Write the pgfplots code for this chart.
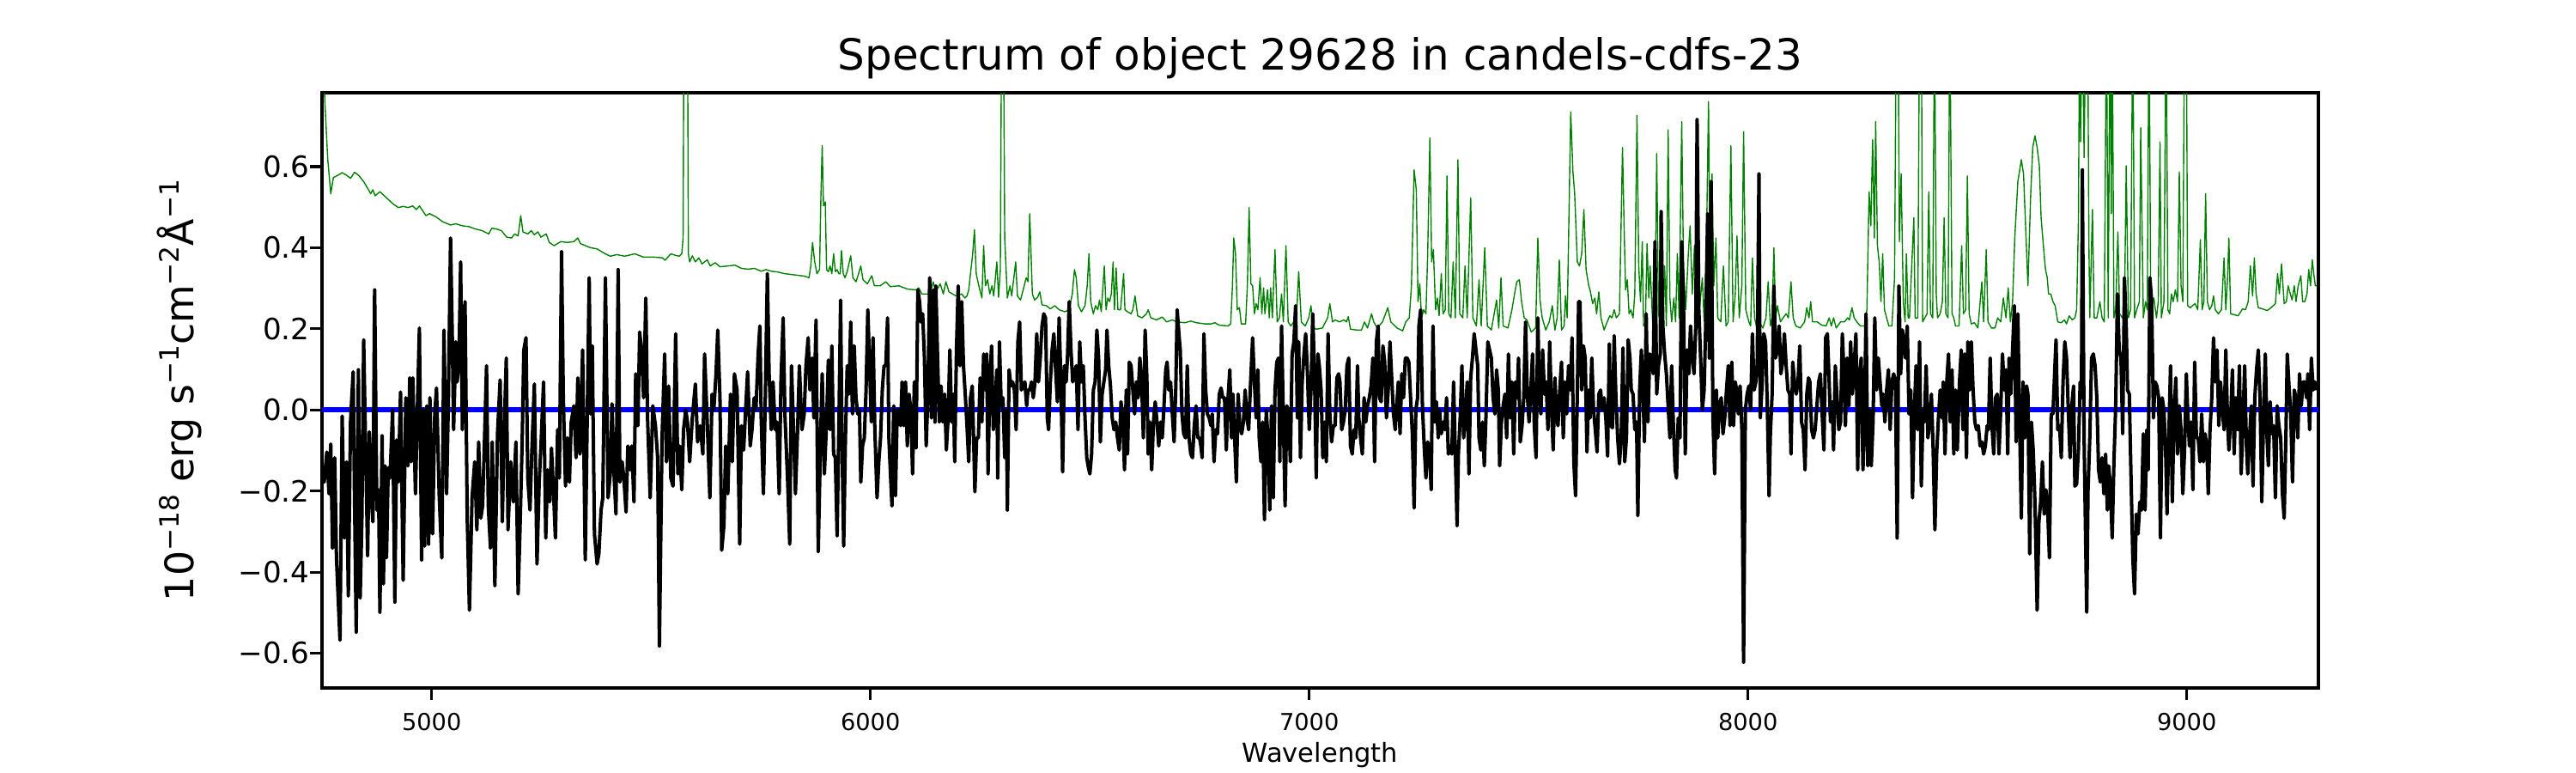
\documentclass[border=0pt]{standalone}
\usepackage{fontspec}
\setmainfont{DejaVu Sans}
\usepackage{pgfplots}
\pgfplotsset{compat=1.18}
\definecolor{mplgreen}{RGB}{0,128,0}
\definecolor{mplblue}{RGB}{0,0,255}
\newcommand\sups[1]{\raisebox{0.36em}{\fontsize{11.2pt}{12pt}\selectfont #1}}
\begin{document}
\begin{tikzpicture}
\begin{axis}[
  at={(0,0)}, anchor=south west,
  scale only axis, width=837pt, height=249.5pt,
  xmin=4750, xmax=9300, ymin=-0.686, ymax=0.782,
  xtick={5000,6000,7000,8000,9000},
  xticklabels={5000,6000,7000,8000,9000},
  ytick={-0.6,-0.4,-0.2,0,0.2,0.4,0.6},
  yticklabels={−0.6,−0.4,−0.2,0.0,0.2,0.4,0.6},
  tick align=outside, xtick pos=left, ytick pos=left,
  major tick length=5pt,
  every tick/.style={black, line width=1.1pt},
  axis line style={line width=1.2pt},
  xticklabel style={font=\fontsize{9.8pt}{10pt}\selectfont, anchor=north, inner sep=0pt, yshift=-5.2pt},
  yticklabel style={font=\fontsize{12.3pt}{13pt}\selectfont, anchor=east, inner sep=0pt},
  every axis title/.style={at={(0.5,1)}, anchor=base, yshift=9.5pt, font=\fontsize{18pt}{20pt}\selectfont},
  every axis x label/.style={at={(0.5,0)}, anchor=base, yshift=-31pt, font=\fontsize{11pt}{12pt}\selectfont},
  every axis y label/.style={at={(-0.0645,0.5)}, rotate=90, anchor=base, yshift=0pt, font=\fontsize{16.5pt}{20pt}\selectfont},
  title={Spectrum of object 29628 in candels-cdfs-23},
  xlabel={Wavelength},
  ylabel={10\sups{−18} erg s\sups{−1}cm\sups{−2}Å\sups{−1}},
]
\addplot[mplblue, line width=2pt] coordinates {(4750,0) (9300,0)};
\addplot[mplgreen, line width=0.5pt, line join=round] coordinates {
(4750,0.95)(4757,0.75)(4763,0.62)(4770,0.533)(4776,0.573)(4785,0.578)(4796,0.585)(4807,0.578)(4815,0.571)(4824,0.586)(4834,0.578)(4845,0.563)(4856,0.543)(4861,0.533)(4866,0.543)(4871,0.528)(4882,0.538)(4897,0.523)(4912,0.508)(4924,0.499)(4935,0.502)(4946,0.499)(4957,0.503)(4965,0.494)(4972,0.503)(4987,0.479)(4995,0.484)(5010,0.476)(5025,0.464)(5043,0.456)(5055,0.459)(5070,0.454)(5085,0.452)(5100,0.446)(5115,0.442)(5130,0.434)(5137,0.448)(5148,0.446)(5159,0.442)(5171,0.426)(5182,0.424)(5189,0.434)(5197,0.429)(5203,0.479)(5208,0.439)(5219,0.434)(5227,0.442)(5234,0.432)(5242,0.439)(5249,0.426)(5261,0.434)(5268,0.413)(5279,0.405)(5294,0.415)(5309,0.413)(5324,0.415)(5333,0.424)(5339,0.410)(5362,0.400)(5377,0.397)(5392,0.387)(5407,0.379)(5422,0.383)(5440,0.379)(5463,0.385)(5482,0.377)(5504,0.377)(5526,0.375)(5532,0.369)(5545,0.385)(5556,0.381)(5564,0.379)(5570,0.385)(5573,0.424)(5575,1.0)(5583,1.0)(5585,0.385)(5588,0.365)(5594,0.380)(5601,0.365)(5609,0.375)(5616,0.360)(5628,0.370)(5635,0.355)(5646,0.363)(5657,0.353)(5676,0.355)(5691,0.357)(5706,0.349)(5721,0.347)(5736,0.349)(5751,0.342)(5762,0.346)(5774,0.342)(5789,0.340)(5804,0.336)(5819,0.334)(5834,0.332)(5849,0.330)(5860,0.326)(5864,0.355)(5868,0.413)(5873,0.365)(5878,0.336)(5884,0.346)(5887,0.523)(5890,0.652)(5893,0.503)(5897,0.513)(5900,0.346)(5904,0.341)(5908,0.355)(5912,0.336)(5916,0.385)(5920,0.341)(5924,0.346)(5928,0.336)(5931,0.336)(5934,0.393)(5938,0.336)(5942,0.326)(5947,0.341)(5955,0.380)(5960,0.326)(5967,0.316)(5973,0.336)(5978,0.355)(5983,0.321)(5993,0.311)(6003,0.331)(6009,0.306)(6022,0.306)(6035,0.316)(6045,0.304)(6065,0.306)(6084,0.298)(6104,0.296)(6110,0.301)(6117,0.286)(6136,0.286)(6143,0.316)(6149,0.291)(6159,0.311)(6166,0.286)(6172,0.316)(6179,0.291)(6195,0.281)(6208,0.286)(6215,0.276)(6220,0.281)(6224,0.296)(6229,0.346)(6233,0.385)(6237,0.444)(6241,0.336)(6247,0.306)(6254,0.276)(6258,0.405)(6262,0.306)(6267,0.321)(6272,0.286)(6277,0.306)(6281,0.281)(6288,0.365)(6292,0.278)(6296,0.346)(6299,1.0)(6303,1.0)(6306,0.424)(6312,0.276)(6318,0.306)(6322,0.281)(6331,0.365)(6335,0.281)(6342,0.271)(6348,0.296)(6355,0.326)(6359,0.316)(6363,0.484)(6369,0.286)(6374,0.271)(6381,0.278)(6386,0.291)(6391,0.259)(6401,0.257)(6410,0.249)(6420,0.257)(6430,0.247)(6443,0.242)(6453,0.247)(6460,0.286)(6465,0.346)(6469,0.326)(6474,0.257)(6481,0.242)(6489,0.257)(6494,0.306)(6498,0.385)(6502,0.267)(6508,0.237)(6513,0.257)(6518,0.247)(6522,0.271)(6526,0.242)(6533,0.355)(6537,0.247)(6541,0.276)(6545,0.267)(6549,0.286)(6553,0.365)(6556,0.247)(6560,0.350)(6564,0.247)(6570,0.247)(6577,0.336)(6580,0.247)(6586,0.242)(6594,0.237)(6598,0.247)(6603,0.281)(6609,0.232)(6619,0.227)(6629,0.237)(6633,0.247)(6639,0.227)(6652,0.222)(6665,0.229)(6675,0.217)(6688,0.222)(6697,0.217)(6717,0.215)(6730,0.219)(6743,0.215)(6763,0.212)(6776,0.212)(6785,0.215)(6795,0.209)(6815,0.207)(6821,0.212)(6825,0.306)(6828,0.424)(6832,0.385)(6836,0.247)(6841,0.252)(6845,0.212)(6851,0.212)(6855,0.212)(6859,0.306)(6863,0.499)(6867,0.311)(6871,0.306)(6875,0.237)(6879,0.262)(6883,0.247)(6888,0.326)(6892,0.237)(6896,0.301)(6899,0.237)(6905,0.296)(6909,0.227)(6912,0.301)(6916,0.227)(6922,0.395)(6927,0.217)(6932,0.227)(6937,0.286)(6941,0.217)(6947,0.405)(6952,0.217)(6958,0.207)(6965,0.217)(6970,0.207)(6976,0.341)(6982,0.217)(6991,0.207)(6999,0.227)(7004,0.257)(7009,0.202)(7017,0.199)(7030,0.202)(7042,0.227)(7047,0.262)(7053,0.217)(7059,0.222)(7069,0.217)(7079,0.222)(7085,0.217)(7089,0.230)(7094,0.199)(7108,0.197)(7119,0.197)(7126,0.217)(7133,0.202)(7142,0.237)(7147,0.217)(7155,0.202)(7167,0.217)(7179,0.252)(7186,0.217)(7200,0.202)(7213,0.195)(7220,0.217)(7228,0.227)(7233,0.306)(7239,0.592)(7244,0.543)(7248,0.267)(7252,0.311)(7256,0.227)(7261,0.247)(7266,0.237)(7270,0.385)(7275,0.671)(7279,0.365)(7283,0.395)(7288,0.247)(7292,0.276)(7296,0.232)(7301,0.336)(7305,0.237)(7310,0.247)(7314,0.577)(7318,0.237)(7323,0.227)(7328,0.365)(7333,0.227)(7339,0.617)(7343,0.237)(7350,0.227)(7355,0.355)(7360,0.227)(7368,0.523)(7373,0.227)(7381,0.207)(7387,0.321)(7392,0.207)(7400,0.400)(7406,0.207)(7415,0.197)(7427,0.271)(7432,0.202)(7437,0.326)(7442,0.207)(7453,0.202)(7462,0.247)(7468,0.286)(7473,0.316)(7479,0.321)(7484,0.267)(7490,0.227)(7496,0.222)(7506,0.192)(7516,0.202)(7521,0.424)(7526,0.271)(7531,0.227)(7539,0.197)(7547,0.217)(7554,0.257)(7560,0.197)(7565,0.227)(7570,0.370)(7575,0.197)(7581,0.207)(7584,0.281)(7588,0.227)(7596,0.735)(7601,0.587)(7605,0.533)(7611,0.365)(7616,0.355)(7621,0.385)(7626,0.494)(7631,0.346)(7637,0.306)(7640,0.296)(7646,0.262)(7651,0.276)(7655,0.237)(7660,0.291)(7665,0.227)(7672,0.197)(7679,0.217)(7685,0.232)(7690,0.227)(7695,0.247)(7700,0.227)(7707,0.237)(7714,0.647)(7718,0.434)(7721,0.296)(7725,0.321)(7729,0.237)(7733,0.247)(7738,0.227)(7742,0.286)(7747,0.726)(7751,0.355)(7755,0.267)(7759,0.415)(7762,0.207)(7766,0.207)(7770,0.410)(7774,0.276)(7777,0.355)(7783,0.207)(7788,0.237)(7792,0.632)(7796,0.237)(7801,0.207)(7806,0.207)(7810,0.355)(7814,0.207)(7818,0.691)(7822,0.276)(7826,0.217)(7831,0.276)(7835,0.217)(7839,0.385)(7843,0.227)(7849,0.711)(7853,0.355)(7858,0.247)(7864,0.385)(7868,0.454)(7873,0.286)(7878,0.405)(7882,0.217)(7887,0.227)(7891,0.267)(7896,0.326)(7900,0.217)(7905,0.385)(7910,0.760)(7914,0.267)(7918,0.582)(7922,0.306)(7927,0.424)(7931,0.227)(7938,0.217)(7944,0.355)(7950,0.207)(7955,0.217)(7961,0.652)(7966,0.217)(7971,0.286)(7975,0.429)(7980,0.227)(7986,0.306)(7990,0.686)(7995,0.247)(8002,0.217)(8006,0.207)(8010,0.375)(8015,0.227)(8019,0.207)(8025,0.217)(8034,0.202)(8041,0.227)(8046,0.316)(8051,0.207)(8055,0.227)(8059,0.400)(8063,0.227)(8067,0.257)(8074,0.217)(8080,0.227)(8087,0.237)(8092,0.227)(8098,0.316)(8103,0.227)(8109,0.207)(8119,0.202)(8129,0.217)(8134,0.252)(8139,0.227)(8143,0.267)(8147,0.217)(8158,0.217)(8168,0.209)(8178,0.207)(8185,0.227)(8190,0.207)(8195,0.227)(8201,0.202)(8211,0.217)(8220,0.217)(8227,0.227)(8231,0.222)(8237,0.252)(8242,0.227)(8248,0.217)(8256,0.207)(8266,0.207)(8271,0.247)(8276,0.538)(8280,0.454)(8284,0.666)(8288,0.424)(8291,0.711)(8295,0.405)(8299,0.365)(8303,0.267)(8307,0.385)(8311,0.247)(8316,0.227)(8321,0.207)(8328,0.207)(8334,0.326)(8338,1.0)(8342,1.0)(8345,0.415)(8349,0.582)(8354,0.267)(8358,0.217)(8361,0.385)(8365,0.227)(8368,0.227)(8378,0.474)(8381,0.227)(8387,0.227)(8391,1.0)(8395,1.0)(8398,0.217)(8403,0.227)(8408,0.237)(8412,0.538)(8416,0.237)(8421,0.227)(8425,1.0)(8429,0.286)(8432,0.227)(8438,0.237)(8443,0.267)(8447,0.474)(8451,0.237)(8456,0.227)(8460,1.0)(8465,0.237)(8469,0.227)(8473,0.207)(8481,0.207)(8487,0.405)(8491,0.237)(8496,0.247)(8500,0.577)(8504,0.237)(8509,0.212)(8516,0.215)(8524,0.202)(8533,0.316)(8537,0.217)(8543,0.395)(8547,0.217)(8555,0.202)(8563,0.202)(8569,0.227)(8576,0.217)(8582,0.276)(8588,0.227)(8593,0.301)(8598,0.217)(8603,0.267)(8608,0.424)(8615,0.563)(8623,0.617)(8628,0.582)(8633,0.444)(8638,0.306)(8644,0.523)(8649,0.647)(8654,0.676)(8659,0.647)(8664,0.602)(8668,0.474)(8674,0.395)(8678,0.346)(8682,0.326)(8685,0.286)(8690,0.286)(8695,0.267)(8700,0.257)(8706,0.217)(8714,0.215)(8721,0.222)(8726,0.212)(8732,0.232)(8739,0.222)(8745,0.227)(8749,0.247)(8753,0.464)(8756,1.0)(8758,0.661)(8762,1.0)(8766,0.622)(8770,1.0)(8774,1.0)(8777,0.405)(8779,0.227)(8785,0.494)(8789,0.227)(8795,0.227)(8802,0.267)(8807,0.227)(8812,0.217)(8817,1.0)(8821,0.227)(8825,1.0)(8828,0.484)(8830,1.0)(8834,0.227)(8838,0.247)(8843,0.439)(8847,0.237)(8853,0.227)(8858,0.247)(8862,0.602)(8867,0.227)(8872,0.247)(8877,1.0)(8881,0.227)(8886,0.247)(8892,0.267)(8895,0.696)(8901,0.227)(8906,0.267)(8910,0.247)(8914,1.0)(8918,0.227)(8922,0.267)(8925,0.276)(8931,0.227)(8935,0.267)(8939,0.661)(8942,0.227)(8948,0.267)(8953,1.0)(8957,0.247)(8961,0.237)(8965,0.286)(8969,0.267)(8974,0.296)(8979,0.267)(8983,0.587)(8987,0.306)(8991,0.267)(8995,1.0)(8999,1.0)(9002,0.257)(9008,0.252)(9013,0.257)(9019,0.262)(9025,0.247)(9031,0.420)(9035,0.247)(9039,0.267)(9043,0.533)(9047,0.267)(9052,0.247)(9057,0.257)(9061,0.281)(9065,0.247)(9072,0.237)(9079,0.247)(9085,0.375)(9089,0.247)(9093,0.326)(9096,0.424)(9100,0.237)(9107,0.235)(9117,0.232)(9127,0.249)(9134,0.247)(9140,0.267)(9145,0.355)(9150,0.281)(9154,0.375)(9158,0.286)(9163,0.252)(9173,0.249)(9183,0.245)(9192,0.252)(9202,0.262)(9207,0.336)(9211,0.286)(9216,0.360)(9222,0.262)(9227,0.267)(9231,0.306)(9236,0.286)(9240,0.271)(9245,0.306)(9249,0.267)(9254,0.306)(9260,0.331)(9264,0.267)(9269,0.267)(9274,0.286)(9278,0.346)(9282,0.306)(9286,0.370)(9290,0.331)(9293,0.306)(9297,0.306)
};
\addplot[black, line width=1.45pt, line join=round] coordinates {
(4750,-0.178)(4755,-0.178)(4761,-0.104)(4766,-0.207)(4770,-0.084)(4774,-0.341)(4779,-0.118)(4783,-0.365)(4791,-0.568)(4796,-0.015)(4801,-0.316)(4806,-0.128)(4810,-0.459)(4815,-0.030)(4821,0.094)(4824,-0.207)(4828,-0.548)(4833,0.099)(4837,-0.464)(4841,-0.267)(4845,0.173)(4849,-0.069)(4854,-0.360)(4858,-0.054)(4861,-0.197)(4866,-0.276)(4870,0.296)(4875,-0.247)(4879,-0.197)(4882,-0.499)(4887,-0.064)(4890,-0.429)(4894,-0.138)(4897,-0.365)(4901,-0.143)(4905,-0.168)(4911,0)(4916,-0.474)(4920,-0.074)(4924,-0.178)(4929,0.044)(4935,-0.420)(4941,0.030)(4946,-0.138)(4950,0.079)(4953,-0.128)(4957,0.079)(4963,-0.207)(4968,0.030)(4972,0.202)(4977,-0.370)(4981,0)(4984,-0.336)(4989,0.010)(4993,-0.331)(4996,0.030)(5002,-0.306)(5007,-0.010)(5011,0.054)(5017,-0.207)(5023,-0.365)(5028,0.197)(5034,-0.207)(5038,0.020)(5043,0.424)(5047,0.178)(5050,-0.049)(5055,0.168)(5058,0.069)(5062,0.109)(5066,0.365)(5070,-0.049)(5076,0.267)(5081,-0.267)(5086,-0.494)(5092,-0.217)(5098,-0.128)(5103,-0.296)(5107,-0.079)(5112,-0.267)(5116,-0.237)(5120,-0.089)(5125,0.109)(5129,-0.237)(5134,-0.341)(5138,-0.079)(5144,-0.434)(5150,-0.059)(5156,0.074)(5161,-0.276)(5165,-0.059)(5170,0.128)(5174,-0.296)(5180,-0.128)(5186,-0.227)(5192,-0.079)(5197,-0.454)(5201,-0.306)(5206,-0.089)(5210,0.148)(5215,0.178)(5219,-0.168)(5224,-0.247)(5228,-0.109)(5234,0.064)(5240,-0.380)(5245,-0.178)(5249,-0.089)(5255,0.069)(5260,-0.316)(5264,-0.148)(5269,-0.227)(5273,-0.094)(5278,-0.212)(5282,-0.316)(5287,-0.049)(5291,-0.168)(5296,0.390)(5300,0.030)(5305,-0.188)(5309,-0.069)(5314,-0.178)(5318,-0.030)(5324,0.010)(5329,-0.118)(5333,0.079)(5338,-0.109)(5344,0.148)(5350,-0.370)(5354,-0.059)(5359,0.326)(5362,-0.010)(5366,0.158)(5371,-0.306)(5377,-0.380)(5381,-0.355)(5386,-0.247)(5390,-0.217)(5396,0.326)(5402,-0.217)(5407,-0.158)(5411,0.015)(5416,-0.168)(5420,-0.257)(5425,0.346)(5429,-0.178)(5434,-0.128)(5438,-0.168)(5443,-0.252)(5447,-0.089)(5452,-0.148)(5456,-0.089)(5461,-0.227)(5465,0.089)(5470,-0.039)(5474,0.192)(5479,0.138)(5483,0.030)(5488,0.276)(5492,-0.020)(5498,-0.217)(5504,0.010)(5510,-0.039)(5515,-0.118)(5519,-0.582)(5525,-0.069)(5531,0.138)(5535,-0.128)(5540,0.059)(5545,-0.168)(5550,-0.188)(5556,0.188)(5561,-0.158)(5565,-0.089)(5570,-0.197)(5574,-0.049)(5579,0)(5583,-0.030)(5588,-0.128)(5594,-0.020)(5601,0.064)(5606,-0.079)(5612,-0.039)(5618,-0.109)(5622,0.138)(5628,-0.030)(5634,-0.217)(5639,0.039)(5643,0)(5648,0.089)(5652,0.197)(5657,0.030)(5661,-0.346)(5666,-0.286)(5670,-0.089)(5675,-0.207)(5681,0.039)(5685,-0.128)(5690,0.089)(5696,0.049)(5702,-0.331)(5706,-0.039)(5711,-0.099)(5715,-0.010)(5720,0.094)(5726,-0.089)(5730,-0.049)(5735,0.030)(5739,0)(5744,0.138)(5748,0.207)(5751,-0.020)(5756,-0.207)(5760,0.010)(5765,0.336)(5769,0.089)(5774,-0.049)(5778,0.069)(5783,-0.049)(5787,-0.030)(5792,-0.207)(5796,0.069)(5801,0.227)(5805,-0.010)(5811,-0.168)(5816,-0.331)(5820,0.109)(5825,-0.059)(5829,-0.207)(5834,-0.049)(5838,0.109)(5844,-0.049)(5849,-0.010)(5853,0.109)(5858,0.178)(5862,0.049)(5867,0.128)(5871,-0.020)(5876,0.222)(5881,-0.350)(5886,-0.089)(5890,0.089)
(5895,-0.158)(5900,-0.030)(5904,0.123)(5908,-0.049)(5912,0.158)(5916,-0.109)(5920,-0.118)(5924,-0.311)(5928,-0.039)(5932,0.271)(5935,-0.069)(5939,-0.336)(5943,-0.069)(5947,0.109)(5951,0.039)(5955,0.217)(5959,-0.010)(5963,0.158)(5967,0.030)(5971,-0.010)(5975,0)(5978,-0.178)(5982,-0.089)(5986,-0.069)(5990,0.049)(5994,0.247)(5998,0.109)(6002,-0.030)(6006,0.178)(6010,-0.049)(6015,-0.217)(6019,-0.128)(6023,-0.069)(6027,0.049)(6031,0.109)(6035,0.109)(6039,0.227)(6042,-0.069)(6046,-0.168)(6049,-0.237)(6053,0.010)(6057,-0.212)(6061,0)(6065,0)(6069,-0.039)(6072,0.069)(6076,-0.039)(6080,0.069)(6084,-0.089)(6088,0.039)(6092,0)(6096,-0.158)(6100,0.069)(6104,-0.094)(6108,0.296)(6112,0.267)(6115,0.217)(6119,0.237)(6123,0.128)(6127,-0.089)(6131,0.039)(6135,0.326)(6139,-0.020)(6143,0.296)(6147,-0.030)(6149,0.306)(6153,0.128)(6157,-0.030)(6161,0.059)(6165,-0.030)(6169,0.039)(6173,-0.099)(6177,-0.020)(6181,0.148)(6185,-0.030)(6189,0.039)(6192,-0.128)(6196,0.148)(6200,0.306)(6204,0.109)(6208,0.267)(6212,0.109)(6216,0.039)(6220,-0.039)(6224,-0.128)(6228,0.030)(6232,0.059)(6236,-0.109)(6238,-0.202)(6242,-0.069)(6246,-0.069)(6250,0.079)(6254,-0.030)(6258,0.138)(6262,0.049)(6265,0.138)(6268,-0.158)(6272,0.069)(6276,0.158)(6280,-0.049)(6284,0.010)(6288,0.099)(6290,-0.168)(6294,0.168)(6298,0.010)(6302,0.030)(6306,-0.118)(6310,0)(6312,-0.247)(6316,0.099)(6320,0.059)(6324,0.069)(6328,0.049)(6332,-0.049)(6336,0.168)(6340,0.217)(6344,0.049)(6348,0.059)(6352,0.069)(6356,0.010)(6359,0.049)(6363,0.049)(6367,0.069)(6371,0.030)(6375,0.069)(6379,0.188)(6383,0.069)(6387,0.128)(6391,0.207)(6395,0.237)(6399,0.227)(6403,-0.020)(6406,-0.049)(6410,0.069)(6414,0.148)(6418,0.188)(6422,0.099)(6426,0.020)(6430,0.227)(6434,0.069)(6438,-0.153)(6442,0.109)(6446,0.069)(6449,0.128)(6453,0.267)(6457,0.148)(6461,0.069)(6465,0.089)(6469,0.109)(6473,-0.049)(6477,0.168)(6481,0.069)(6485,0.109)(6489,-0.020)(6493,-0.118)(6496,-0.138)(6500,-0.158)(6504,-0.109)(6508,0.049)(6512,0.069)(6516,0.197)(6520,0.128)(6524,-0.079)(6528,0.039)(6532,0.069)(6536,0.099)(6539,0.197)(6543,0.109)(6547,0.059)(6551,-0.020)(6555,-0.049)(6559,-0.030)(6563,-0.069)(6567,-0.099)(6571,0.020)(6575,-0.020)(6579,-0.148)(6583,0.049)(6586,-0.109)(6590,0.118)(6594,0.109)(6598,0.049)(6602,-0.010)(6606,0.069)(6610,0.030)(6614,0.128)(6618,0.069)(6622,-0.069)(6626,0.197)(6630,0.079)(6633,-0.109)(6637,-0.030)(6641,-0.148)(6645,-0.030)(6649,0.020)(6653,-0.030)(6657,-0.089)(6661,-0.030)(6665,-0.069)(6669,0.010)(6673,0.099)(6676,0.118)(6680,0.049)(6684,0.069)(6688,-0.010)(6692,-0.079)(6696,0.059)(6699,0.247)(6703,0.188)(6706,0.148)(6710,-0.010)(6714,-0.059)(6718,-0.069)(6722,0.109)(6726,-0.069)(6730,-0.109)(6734,-0.118)(6738,-0.039)(6742,0.010)(6746,-0.069)(6750,-0.069)(6753,-0.089)
(6756,-0.118)(6760,0.188)(6764,0.049)(6768,-0.010)(6772,-0.020)(6776,-0.039)(6779,-0.010)(6783,-0.128)(6787,-0.049)(6791,-0.059)(6795,0.039)(6799,0.054)(6803,0.030)(6807,0.030)(6811,-0.099)(6815,0.030)(6819,0.099)(6823,-0.069)(6826,0.039)(6830,-0.069)(6834,-0.178)(6838,0.039)(6842,-0.039)(6846,-0.059)(6850,-0.030)(6854,0.049)(6858,-0.020)(6862,-0.049)(6866,0.059)(6871,0.178)(6875,0.069)(6879,-0.020)(6883,0.099)(6886,-0.069)(6890,-0.128)(6894,-0.030)(6898,-0.271)(6902,0)(6906,-0.069)(6910,-0.247)(6914,0.010)(6918,-0.217)(6922,0.049)(6926,0.118)(6930,0.128)(6933,-0.128)(6937,0.207)(6941,-0.020)(6945,-0.237)(6949,0.010)(6953,-0.010)(6957,-0.128)(6961,0.138)(6965,0.168)(6969,0.257)(6973,-0.020)(6976,0.168)(6980,-0.118)(6984,0.069)(6988,0.138)(6992,0.188)(6996,0.089)(7000,-0.049)(7004,0.049)(7008,0.237)(7012,0.089)(7016,-0.168)(7020,0.138)(7023,0.109)(7027,0.049)(7031,-0.118)(7035,-0.030)(7039,-0.128)(7043,0.188)(7047,-0.010)(7051,-0.079)(7055,-0.039)(7059,-0.039)(7063,0.079)(7067,0.089)(7070,0.069)(7074,-0.049)(7078,-0.030)(7082,0)(7086,0.109)(7090,0.128)(7094,-0.089)(7098,-0.109)(7102,-0.049)(7106,-0.069)(7110,0.109)(7113,-0.020)(7117,-0.069)(7121,-0.109)(7125,0.030)(7129,-0.030)(7133,0.010)(7137,0.030)(7141,0.059)(7145,0.128)(7149,-0.128)(7153,0.168)(7157,0.207)(7160,0.030)(7164,0.020)(7168,0.158)(7172,0.118)(7176,-0.020)(7180,0.049)(7184,0.168)(7188,0.079)(7192,-0.010)(7196,-0.049)(7200,0.020)(7203,0.069)(7207,-0.059)(7211,0.089)(7215,0.030)(7219,0.128)(7223,0.128)(7227,0.118)(7231,0.030)(7235,-0.059)(7239,-0.242)(7243,0)(7247,0.030)(7250,0.207)(7254,0.247)(7258,0.010)(7262,-0.089)(7266,-0.168)(7270,-0.079)(7274,-0.099)(7278,-0.197)(7282,0.207)(7286,-0.030)(7290,0.020)(7294,-0.069)(7297,0)(7301,-0.059)(7305,-0.030)(7309,-0.049)(7313,0.030)(7317,-0.109)(7321,-0.089)(7325,-0.109)(7329,0.069)(7333,-0.109)(7337,-0.286)(7340,-0.109)(7344,-0.020)(7348,0.109)(7352,-0.069)(7356,-0.020)(7360,0.069)(7364,-0.158)(7368,0.079)(7372,0.128)(7376,0.188)(7380,0.148)(7384,0.109)(7387,-0.069)(7391,-0.099)(7395,-0.030)(7399,-0.138)(7403,-0.010)(7407,0.168)(7411,0.148)(7415,0.128)(7419,0.030)(7423,-0.010)(7427,0.099)(7431,0.049)(7434,-0.138)(7438,-0.030)(7442,0.010)(7446,0.039)(7450,-0.069)(7454,0.138)(7458,-0.020)(7462,0.069)(7466,-0.109)(7470,0.069)(7474,0.030)(7477,0.128)(7481,-0.079)(7485,-0.039)(7489,0.030)(7493,0.217)(7497,0.039)(7501,-0.030)(7505,0.049)(7509,0.138)(7513,-0.039)(7517,-0.118)(7521,0.227)(7524,0.069)(7528,-0.010)(7532,0.148)(7536,0.039)(7540,0.069)(7544,-0.049)(7548,0.168)(7552,0.010)(7556,-0.099)(7560,0.079)(7564,-0.020)(7567,-0.039)(7571,0.049)(7575,0.118)(7579,-0.069)(7583,0.069)(7587,-0.010)(7591,0.109)(7595,0.049)(7599,0.178)(7603,-0.128)(7607,-0.212)(7611,0.039)(7614,0.267)
(7617,0.267)(7621,0.049)(7625,0.158)(7629,0.128)(7633,-0.104)(7637,0.049)(7640,-0.020)(7644,0.128)(7648,0)(7652,-0.049)(7656,-0.104)(7660,0.039)(7664,0.049)(7668,0)(7672,0.030)(7676,-0.020)(7680,-0.114)(7684,0.163)(7687,-0.039)(7691,-0.044)(7695,0.183)(7699,0.030)(7703,-0.069)(7707,-0.133)(7711,-0.069)(7715,0.153)(7719,-0.128)(7723,-0.069)(7727,0.173)(7731,0.128)(7734,0.049)(7738,0.039)(7742,-0.049)(7746,-0.030)(7749,-0.261)(7753,0.049)(7757,0.148)(7761,0.030)(7764,-0.079)(7768,0.237)(7772,-0.030)(7776,0.138)(7780,0.128)(7784,0.089)(7788,0.415)(7792,0.039)(7796,0.109)(7800,0.138)(7802,0.489)(7806,0.207)(7810,0.138)(7814,0.089)(7818,0.010)(7822,-0.069)(7826,0.109)(7830,-0.039)(7834,-0.148)(7837,-0.168)(7841,-0.020)(7845,-0.069)(7849,0.415)(7853,0.267)(7857,-0.109)(7861,0.148)(7865,0.089)(7869,0.207)(7873,0.128)(7877,0.089)(7881,0.207)(7884,0.716)(7888,0.247)(7892,0.128)(7896,0)(7900,0.049)(7904,0.227)(7908,0.484)(7912,0.128)(7916,0.563)(7920,-0.020)(7924,-0.158)(7928,0.049)(7931,-0.069)(7935,0.010)(7939,0.030)(7943,-0.059)(7947,-0.020)(7951,0.049)(7955,0.109)(7959,-0.039)(7963,0.118)(7967,-0.039)(7971,0.069)(7974,0.049)(7978,-0.010)(7982,0.059)(7986,-0.049)(7990,-0.622)(7994,0)(7998,0.039)(8002,0.059)(8006,0)(8010,0.188)(8014,0.049)(8018,0.069)(8021,0.109)(8025,0.582)(8028,-0.020)(8032,0.059)(8036,0.188)(8040,0.168)(8044,0.010)(8048,-0.212)(8051,-0.059)(8055,0.039)(8059,0.306)(8063,0.128)(8067,0.148)(8071,0.207)(8075,0.089)(8079,0.118)(8083,0.188)(8087,0.109)(8091,0.049)(8095,0.039)(8098,-0.109)(8102,0.118)(8106,0.069)(8110,0.039)(8114,0.069)(8118,0.158)(8122,-0.030)(8126,-0.049)(8130,-0.148)(8134,0.039)(8138,0.079)(8141,0.069)(8145,-0.049)(8149,-0.069)(8153,-0.049)(8157,0.010)(8161,0.069)(8165,0.089)(8169,-0.010)(8173,-0.099)(8177,0.178)(8181,0.188)(8185,0.069)(8188,-0.030)(8192,0.020)(8195,-0.099)(8199,0.109)(8203,0.030)(8207,-0.049)(8211,-0.030)(8215,0.188)(8218,0.109)(8222,-0.039)(8226,0.128)(8230,0.010)(8234,0.168)(8238,0.039)(8242,0.109)(8246,0.188)(8250,-0.148)(8254,0.089)(8258,0.128)(8262,-0.148)(8265,-0.049)(8269,0.237)(8273,-0.138)(8277,0)(8281,-0.138)(8285,-0.030)(8289,0.227)(8293,0.049)(8297,0.128)(8301,0.069)(8305,0.010)(8308,0.039)(8312,-0.030)(8316,0.049)(8320,0.099)(8324,-0.049)(8328,0.069)(8332,0.089)(8336,0.069)(8340,-0.316)(8344,0.306)(8348,0.089)(8352,0.197)(8355,0.168)(8359,0.128)(8363,0.207)(8367,-0.010)(8371,0.049)(8375,-0.217)(8379,-0.010)(8383,0.109)(8387,-0.049)(8391,0.168)(8395,-0.188)(8399,0)(8402,-0.030)(8406,0.109)(8410,-0.069)(8414,-0.030)(8418,0.039)(8422,-0.099)(8426,-0.296)(8430,-0.109)(8434,-0.020)(8438,0.049)(8442,-0.020)(8445,0.069)(8449,-0.109)(8453,0.069)(8457,0.138)(8461,-0.030)(8465,0.099)(8469,-0.109)(8473,0.049)(8477,-0.099)
(8482,0.069)(8486,0.148)(8490,-0.049)(8494,0.138)(8498,-0.118)(8501,0.168)(8505,0.049)(8509,0.168)(8513,0.049)(8517,-0.030)(8521,-0.049)(8525,-0.039)(8529,-0.089)(8533,-0.079)(8537,-0.109)(8541,-0.089)(8545,-0.039)(8548,-0.049)(8552,0.128)(8556,-0.039)(8560,-0.109)(8564,0.030)(8568,0.039)(8572,-0.109)(8576,0)(8580,0.138)(8584,0.049)(8588,0.099)(8592,-0.109)(8595,0.128)(8599,0.039)(8603,0.148)(8607,0.257)(8611,-0.079)(8615,0.237)(8619,-0.030)(8623,-0.267)(8627,0.069)(8631,-0.069)(8635,0.059)(8638,0.039)(8642,-0.355)(8646,-0.030)(8650,-0.099)(8654,-0.227)(8659,-0.494)(8663,-0.276)(8667,-0.227)(8671,-0.128)(8675,-0.257)(8679,-0.197)(8683,-0.247)(8687,-0.365)(8691,-0.010)(8695,-0.010)(8698,0.069)(8702,0.173)(8706,-0.049)(8710,-0.039)(8714,-0.118)(8718,0.069)(8722,0.168)(8726,0.128)(8730,0)(8734,-0.118)(8738,0.010)(8742,0.059)(8745,-0.188)(8749,-0.183)(8753,-0.099)(8757,0.069)(8760,0.030)(8762,0.592)(8766,-0.069)(8772,-0.499)(8775,-0.197)(8779,-0.069)(8783,0.128)(8787,0.138)(8791,0.109)(8795,0.030)(8799,-0.148)(8803,-0.178)(8807,-0.118)(8811,-0.207)(8815,-0.109)(8819,-0.247)(8822,-0.138)(8826,-0.188)(8830,-0.316)(8834,-0.128)(8838,0.010)(8842,0.286)(8846,0.148)(8850,0.128)(8854,-0.059)(8858,0.326)(8862,0.207)(8865,0.049)(8869,0.039)(8873,-0.168)(8877,-0.365)(8881,-0.454)(8885,-0.257)(8889,-0.306)(8893,-0.227)(8897,-0.247)(8901,-0.059)(8905,-0.247)(8909,-0.049)(8912,-0.148)(8916,0.326)(8920,0.267)(8924,-0.020)(8928,0.069)(8932,0.059)(8936,0.030)(8940,-0.316)(8944,0.030)(8948,0)(8952,-0.109)(8955,-0.257)(8959,-0.069)(8963,0.109)(8967,-0.227)(8971,-0.010)(8975,0.079)(8979,-0.109)(8983,0.010)(8987,-0.049)(8991,-0.207)(8995,-0.099)(8999,0.089)(9002,0)(9006,-0.089)(9010,-0.030)(9014,-0.197)(9018,0.118)(9022,-0.069)(9026,-0.069)(9030,-0.128)(9034,-0.010)(9038,-0.128)(9042,-0.059)(9046,-0.099)(9049,-0.207)(9053,-0.049)(9057,0.030)(9061,0.178)(9065,0.069)(9069,0.148)(9073,-0.039)(9077,0.069)(9081,0)(9085,-0.049)(9089,0.148)(9093,-0.030)(9096,-0.099)(9100,-0.020)(9104,0.099)(9108,-0.109)(9112,0.030)(9116,-0.049)(9120,0.109)(9124,-0.158)(9128,-0.030)(9132,0.109)(9136,-0.089)(9139,-0.158)(9143,-0.069)(9147,0.010)(9151,-0.188)(9155,0.030)(9159,0.099)(9163,0.148)(9167,0.030)(9171,-0.227)(9175,-0.020)(9179,0.138)(9183,-0.069)(9186,-0.138)(9190,0.020)(9194,-0.059)(9198,-0.039)(9202,-0.217)(9206,0.010)(9210,-0.039)(9214,-0.069)(9218,-0.207)(9222,-0.267)(9226,-0.059)(9229,0.138)(9233,0.059)(9237,-0.010)(9241,-0.178)(9245,0.049)(9249,0.030)(9253,-0.069)(9257,0.089)(9261,0.010)(9265,0.069)(9269,0.069)(9273,0.030)(9276,0.089)(9280,-0.049)(9284,0.128)(9288,0.049)(9292,0.069)(9297,0.049)
};
\end{axis}
\pgfresetboundingbox
\path[use as bounding box] (-135pt,-35.6pt) rectangle (945pt,288.4pt);
\end{tikzpicture}
\end{document}
